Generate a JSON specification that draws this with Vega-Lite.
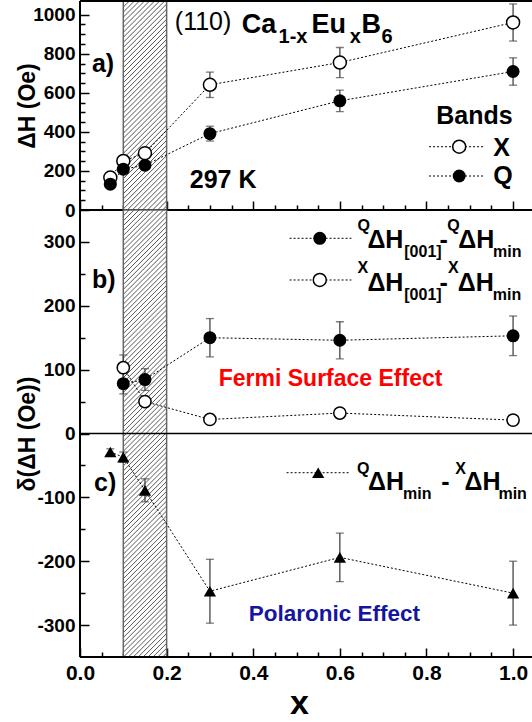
{
"$schema": "https://vega.github.io/schema/vega-lite/v6.json",
"autosize": {"type": "pad"},
"padding": {"left": 16, "top": 0, "right": 0, "bottom": 0},
"background": "white",
"bounds": "flush",
"spacing": 0,
"config": {
  "font": "Liberation Sans",
  "view": {"stroke": null},
  "concat": {"spacing": 0},
  "axis": {"domain": false, "offset": -9, "ticks": true, "tickSize": 9, "tickColor": "black", "tickWidth": 1.5, "labelColor": "black", "titleColor": "black", "labelFont": "Liberation Sans", "labelFontWeight": "bold", "titleFont": "Liberation Sans", "titleFontWeight": "bold", "grid": false, "labelFlush": false, "labelOverlap": false, "labelPadding": 5, "zindex": 1}
},
"datasets": {
  "top": [
    {"x": 0.07, "y": 166, "e": 15, "s": "X"},
    {"x": 0.1, "y": 251, "e": 15, "s": "X"},
    {"x": 0.15, "y": 291, "e": 15, "s": "X"},
    {"x": 0.3, "y": 641, "e": 65, "s": "X"},
    {"x": 0.6, "y": 755, "e": 77, "s": "X"},
    {"x": 1.0, "y": 960, "e": 95, "s": "X"},
    {"x": 0.07, "y": 132, "e": 15, "s": "Q"},
    {"x": 0.1, "y": 209, "e": 15, "s": "Q"},
    {"x": 0.15, "y": 229, "e": 15, "s": "Q"},
    {"x": 0.3, "y": 391, "e": 38, "s": "Q"},
    {"x": 0.6, "y": 559, "e": 55, "s": "Q"},
    {"x": 1.0, "y": 709, "e": 70, "s": "Q"}
  ],
  "bot": [
    {"x": 0.1, "y": 78, "e": 16, "s": "Q"},
    {"x": 0.15, "y": 84.5, "e": 17, "s": "Q"},
    {"x": 0.3, "y": 150, "e": 30, "s": "Q"},
    {"x": 0.6, "y": 146, "e": 29, "s": "Q"},
    {"x": 1.0, "y": 153, "e": 31, "s": "Q"},
    {"x": 0.1, "y": 103, "e": 20, "s": "X"},
    {"x": 0.15, "y": 50, "e": 8, "s": "X"},
    {"x": 0.3, "y": 22, "e": 5, "s": "X"},
    {"x": 0.6, "y": 32, "e": 5, "s": "X"},
    {"x": 1.0, "y": 21, "e": 5, "s": "X"},
    {"x": 0.07, "y": -29, "e": 5, "s": "T"},
    {"x": 0.1, "y": -37, "e": 8, "s": "T"},
    {"x": 0.15, "y": -89, "e": 18, "s": "T"},
    {"x": 0.3, "y": -247, "e": 50, "s": "T"},
    {"x": 0.6, "y": -194, "e": 38, "s": "T"},
    {"x": 1.0, "y": -250, "e": 50, "s": "T"}
  ],
  "bandTop": [{"x": 0.1, "x2": 0.2, "y": 0, "y2": 1070}],
  "bandBot": [{"x": 0.1, "x2": 0.2, "y": -350, "y2": 350}],
  "tEdgeH": [{"x": 0, "x2": 1.046, "y": 1070}, {"x": 0, "x2": 1.046, "y": 0}],
  "tEdgeV": [{"x": 0, "y": 0, "y2": 1070}],
  "bEdgeH": [{"x": 0, "x2": 1.046, "y": -350}],
  "bEdgeV": [{"x": 0, "y": -350, "y2": 350}],
  "zeroLine": [{"x": 0, "x2": 1.046, "y": 0}],
  "tLegRule": [{"x": 0.806, "x2": 0.932, "y": 324}, {"x": 0.806, "x2": 0.932, "y": 174}],
  "tLegOpen": [{"x": 0.8756, "y": 324}],
  "tLegFill": [{"x": 0.8756, "y": 174}],
  "tReg": [{"x": 0.2189, "y": 922, "t": "(110)"}],
  "tBig": [{"x": 0.3733, "y": 906, "t": "Ca"}, {"x": 0.5346, "y": 906, "t": "Eu"}, {"x": 0.6498, "y": 906, "t": "B"}],
  "tSub": [{"x": 0.4585, "y": 855, "t": "1-x"}, {"x": 0.6229, "y": 855, "t": "x"}, {"x": 0.6959, "y": 855, "t": "6"}],
  "tLbl": [{"x": 0.0276, "y": 707, "t": "a)"}, {"x": 0.8226, "y": 440, "t": "Bands"}, {"x": 0.954, "y": 277, "t": "X"}, {"x": 0.954, "y": 135, "t": "Q"}, {"x": 0.2535, "y": 113, "t": "297 K"}],
  "bLbl": [{"x": 0.0276, "y": 228, "t": "b)"}, {"x": 0.0323, "y": -90, "t": "c)"}],
  "bFermi": [{"x": 0.3203, "y": 74, "t": "Fermi Surface Effect"}],
  "bPolar": [{"x": 0.3894, "y": -293, "t": "Polaronic Effect"}],
  "bMain": [{"x": 0.6636, "y": 291, "t": "ΔH"}, {"x": 0.83, "y": 291, "t": "-"}, {"x": 0.8733, "y": 291, "t": "ΔH"}, {"x": 0.6636, "y": 223, "t": "ΔH"}, {"x": 0.83, "y": 223, "t": "-"}, {"x": 0.8725, "y": 223, "t": "ΔH"}, {"x": 0.6652, "y": -88.5, "t": "ΔH"}, {"x": 0.834, "y": -88.5, "t": "-"}, {"x": 0.8878, "y": -88.5, "t": "ΔH"}],
  "bSup": [{"x": 0.6405, "y": 317, "t": "Q"}, {"x": 0.848, "y": 317, "t": "Q"}, {"x": 0.6405, "y": 252, "t": "X"}, {"x": 0.8495, "y": 252, "t": "X"}, {"x": 0.6397, "y": -63, "t": "Q"}, {"x": 0.8663, "y": -63, "t": "X"}],
  "bSub": [{"x": 0.7488, "y": 276.5, "t": "[001]"}, {"x": 0.9539, "y": 276.5, "t": "min"}, {"x": 0.7488, "y": 208.6, "t": "[001]"}, {"x": 0.9532, "y": 208.6, "t": "min"}, {"x": 0.7459, "y": -103, "t": "min"}, {"x": 0.9662, "y": -103, "t": "min"}],
  "bLegRule": [{"x": 0.4839, "x2": 0.6267, "y": 305.7}, {"x": 0.4839, "x2": 0.6267, "y": 240.4}, {"x": 0.477, "x2": 0.6221, "y": -61.4}],
  "bLegFill": [{"x": 0.5537, "y": 305.7}],
  "bLegOpen": [{"x": 0.5537, "y": 240.4}],
  "bLegTri": [{"x": 0.55, "y": -61.4}]
},
"vconcat": [
{
  "width": 453, "height": 209,
  "encoding": {
    "x": {"field": "x", "type": "quantitative", "scale": {"domain": [0, 1.046], "nice": false, "zero": false},
      "axis": {"orient": "bottom", "values": [0,0.05,0.1,0.15,0.2,0.25,0.3,0.35,0.4,0.45,0.5,0.55,0.6,0.65,0.7,0.75,0.8,0.85,0.9,0.95,1], "labels": false, "title": null,
        "tickDash": {"condition": {"test": "abs(datum.value*5-round(datum.value*5))>0.001", "value": [0, 4, 5, 100]}, "value": [100, 1]}}},
    "y": {"field": "y", "type": "quantitative", "scale": {"domain": [0, 1070], "nice": false, "zero": false},
      "axis": {"values": [0,50,100,150,200,250,300,350,400,450,500,550,600,650,700,750,800,850,900,950,1000], "format": "d", "labelExpr": "datum.value % 200 === 0 ? datum.label : ''", "labelFontSize": 19,
        "title": "ΔH (Oe)", "titleFontSize": 23, "titleX": -55, "titleY": 104.5, "titleBaseline": "alphabetic",
        "tickDash": {"condition": {"test": "datum.value % 200 !== 0", "value": [0, 4, 5, 100]}, "value": [100, 1]}}}
  },
  "layer": [
    {"data": {"name": "bandTop"},
     "mark": {"type": "rect", "stroke": "#666", "strokeWidth": 1.5,
       "fill": {"gradient": "linear", "x1": 0, "y1": 0, "x2": 0.23987, "y2": 1.15751, "stops": [
{"offset":0,"color":"#fff"},{"offset":0.004,"color":"#555"},{"offset":0.008,"color":"#fff"},
{"offset":0.02,"color":"#fff"},{"offset":0.024,"color":"#555"},{"offset":0.028,"color":"#fff"},
{"offset":0.04,"color":"#fff"},{"offset":0.044,"color":"#555"},{"offset":0.048,"color":"#fff"},
{"offset":0.06,"color":"#fff"},{"offset":0.064,"color":"#555"},{"offset":0.068,"color":"#fff"},
{"offset":0.08,"color":"#fff"},{"offset":0.084,"color":"#555"},{"offset":0.088,"color":"#fff"},
{"offset":0.1,"color":"#fff"},{"offset":0.104,"color":"#555"},{"offset":0.108,"color":"#fff"},
{"offset":0.12,"color":"#fff"},{"offset":0.124,"color":"#555"},{"offset":0.128,"color":"#fff"},
{"offset":0.14,"color":"#fff"},{"offset":0.144,"color":"#555"},{"offset":0.148,"color":"#fff"},
{"offset":0.16,"color":"#fff"},{"offset":0.164,"color":"#555"},{"offset":0.168,"color":"#fff"},
{"offset":0.18,"color":"#fff"},{"offset":0.184,"color":"#555"},{"offset":0.188,"color":"#fff"},
{"offset":0.2,"color":"#fff"},{"offset":0.204,"color":"#555"},{"offset":0.208,"color":"#fff"},
{"offset":0.22,"color":"#fff"},{"offset":0.224,"color":"#555"},{"offset":0.228,"color":"#fff"},
{"offset":0.24,"color":"#fff"},{"offset":0.244,"color":"#555"},{"offset":0.248,"color":"#fff"},
{"offset":0.26,"color":"#fff"},{"offset":0.264,"color":"#555"},{"offset":0.268,"color":"#fff"},
{"offset":0.28,"color":"#fff"},{"offset":0.284,"color":"#555"},{"offset":0.288,"color":"#fff"},
{"offset":0.3,"color":"#fff"},{"offset":0.304,"color":"#555"},{"offset":0.308,"color":"#fff"},
{"offset":0.32,"color":"#fff"},{"offset":0.324,"color":"#555"},{"offset":0.328,"color":"#fff"},
{"offset":0.34,"color":"#fff"},{"offset":0.344,"color":"#555"},{"offset":0.348,"color":"#fff"},
{"offset":0.36,"color":"#fff"},{"offset":0.364,"color":"#555"},{"offset":0.368,"color":"#fff"},
{"offset":0.38,"color":"#fff"},{"offset":0.384,"color":"#555"},{"offset":0.388,"color":"#fff"},
{"offset":0.4,"color":"#fff"},{"offset":0.404,"color":"#555"},{"offset":0.408,"color":"#fff"},
{"offset":0.42,"color":"#fff"},{"offset":0.424,"color":"#555"},{"offset":0.428,"color":"#fff"},
{"offset":0.44,"color":"#fff"},{"offset":0.444,"color":"#555"},{"offset":0.448,"color":"#fff"},
{"offset":0.46,"color":"#fff"},{"offset":0.464,"color":"#555"},{"offset":0.468,"color":"#fff"},
{"offset":0.48,"color":"#fff"},{"offset":0.484,"color":"#555"},{"offset":0.488,"color":"#fff"},
{"offset":0.5,"color":"#fff"},{"offset":0.504,"color":"#555"},{"offset":0.508,"color":"#fff"},
{"offset":0.52,"color":"#fff"},{"offset":0.524,"color":"#555"},{"offset":0.528,"color":"#fff"},
{"offset":0.54,"color":"#fff"},{"offset":0.544,"color":"#555"},{"offset":0.548,"color":"#fff"},
{"offset":0.56,"color":"#fff"},{"offset":0.564,"color":"#555"},{"offset":0.568,"color":"#fff"},
{"offset":0.58,"color":"#fff"},{"offset":0.584,"color":"#555"},{"offset":0.588,"color":"#fff"},
{"offset":0.6,"color":"#fff"},{"offset":0.604,"color":"#555"},{"offset":0.608,"color":"#fff"},
{"offset":0.62,"color":"#fff"},{"offset":0.624,"color":"#555"},{"offset":0.628,"color":"#fff"},
{"offset":0.64,"color":"#fff"},{"offset":0.644,"color":"#555"},{"offset":0.648,"color":"#fff"},
{"offset":0.66,"color":"#fff"},{"offset":0.664,"color":"#555"},{"offset":0.668,"color":"#fff"},
{"offset":0.68,"color":"#fff"},{"offset":0.684,"color":"#555"},{"offset":0.688,"color":"#fff"},
{"offset":0.7,"color":"#fff"},{"offset":0.704,"color":"#555"},{"offset":0.708,"color":"#fff"},
{"offset":0.72,"color":"#fff"},{"offset":0.724,"color":"#555"},{"offset":0.728,"color":"#fff"},
{"offset":0.74,"color":"#fff"},{"offset":0.744,"color":"#555"},{"offset":0.748,"color":"#fff"},
{"offset":0.76,"color":"#fff"},{"offset":0.764,"color":"#555"},{"offset":0.768,"color":"#fff"},
{"offset":0.78,"color":"#fff"},{"offset":0.784,"color":"#555"},{"offset":0.788,"color":"#fff"},
{"offset":0.8,"color":"#fff"},{"offset":0.804,"color":"#555"},{"offset":0.808,"color":"#fff"},
{"offset":0.82,"color":"#fff"},{"offset":0.824,"color":"#555"},{"offset":0.828,"color":"#fff"},
{"offset":0.84,"color":"#fff"},{"offset":0.844,"color":"#555"},{"offset":0.848,"color":"#fff"},
{"offset":0.86,"color":"#fff"},{"offset":0.864,"color":"#555"},{"offset":0.868,"color":"#fff"},
{"offset":0.88,"color":"#fff"},{"offset":0.884,"color":"#555"},{"offset":0.888,"color":"#fff"},
{"offset":0.9,"color":"#fff"},{"offset":0.904,"color":"#555"},{"offset":0.908,"color":"#fff"},
{"offset":0.92,"color":"#fff"},{"offset":0.924,"color":"#555"},{"offset":0.928,"color":"#fff"},
{"offset":0.94,"color":"#fff"},{"offset":0.944,"color":"#555"},{"offset":0.948,"color":"#fff"},
{"offset":0.96,"color":"#fff"},{"offset":0.964,"color":"#555"},{"offset":0.968,"color":"#fff"},
{"offset":0.98,"color":"#fff"},{"offset":0.984,"color":"#555"},{"offset":0.988,"color":"#fff"},
{"offset":1,"color":"#fff"}
       ]}},
     "encoding": {"x2": {"field": "x2"}, "y2": {"field": "y2"}}},
    {"data": {"name": "tEdgeH"}, "mark": {"type": "rule", "color": "black", "strokeWidth": 2},
     "encoding": {"x2": {"field": "x2"}}},
    {"data": {"name": "tEdgeV"}, "mark": {"type": "rule", "color": "black", "strokeWidth": 2},
     "encoding": {"y2": {"field": "y2"}}},
    {"data": {"name": "top"}, "mark": {"type": "line", "color": "black", "strokeWidth": 1, "strokeDash": [2, 2]},
     "encoding": {"detail": {"field": "s"}}},
    {"data": {"name": "top"}, "mark": {"type": "errorbar", "color": "#444", "thickness": 1.3, "ticks": {"size": 8}},
     "encoding": {"yError": {"field": "e"}}},
    {"data": {"name": "top"}, "transform": [{"filter": "datum.s === 'X'"}],
     "mark": {"type": "point", "shape": "circle", "filled": true, "fill": "white", "stroke": "black", "strokeWidth": 1.5, "size": 169, "opacity": 1}},
    {"data": {"name": "top"}, "transform": [{"filter": "datum.s === 'Q'"}],
     "mark": {"type": "point", "shape": "circle", "filled": true, "color": "black", "size": 169, "opacity": 1}},
    {"data": {"name": "tLegRule"}, "mark": {"type": "rule", "color": "black", "strokeWidth": 1, "strokeDash": [2, 2]},
     "encoding": {"x2": {"field": "x2"}}},
    {"data": {"name": "tLegOpen"},
     "mark": {"type": "point", "shape": "circle", "filled": true, "fill": "white", "stroke": "black", "strokeWidth": 1.5, "size": 169, "opacity": 1}},
    {"data": {"name": "tLegFill"},
     "mark": {"type": "point", "shape": "circle", "filled": true, "color": "black", "size": 169, "opacity": 1}},
    {"data": {"name": "tReg"}, "mark": {"type": "text", "align": "left", "baseline": "alphabetic", "font": "Liberation Sans", "fontSize": 25, "color": "black"},
     "encoding": {"text": {"field": "t"}}},
    {"data": {"name": "tBig"}, "mark": {"type": "text", "align": "left", "baseline": "alphabetic", "font": "Liberation Sans", "fontWeight": "bold", "fontSize": 27, "color": "black"},
     "encoding": {"text": {"field": "t"}}},
    {"data": {"name": "tSub"}, "mark": {"type": "text", "align": "left", "baseline": "alphabetic", "font": "Liberation Sans", "fontWeight": "bold", "fontSize": 20, "color": "black"},
     "encoding": {"text": {"field": "t"}}},
    {"data": {"name": "tLbl"}, "mark": {"type": "text", "align": "left", "baseline": "alphabetic", "font": "Liberation Sans", "fontWeight": "bold", "fontSize": 25, "color": "black"},
     "encoding": {"text": {"field": "t"}}}
  ]
},
{
  "width": 453, "height": 447,
  "encoding": {
    "x": {"field": "x", "type": "quantitative", "scale": {"domain": [0, 1.046], "nice": false, "zero": false},
      "axis": {"orient": "bottom", "values": [0,0.05,0.1,0.15,0.2,0.25,0.3,0.35,0.4,0.45,0.5,0.55,0.6,0.65,0.7,0.75,0.8,0.85,0.9,0.95,1],
        "labelExpr": "abs(datum.value*5-round(datum.value*5))<0.001 ? format(datum.value, '.1f') : ''", "labelFontSize": 21,
        "title": "x", "titleFontSize": 34, "titleX": 219, "titleY": 65, "titleBaseline": "alphabetic",
        "tickDash": {"condition": {"test": "abs(datum.value*5-round(datum.value*5))>0.001", "value": [0, 4, 5, 100]}, "value": [100, 1]}}},
    "y": {"field": "y", "type": "quantitative", "scale": {"domain": [-350, 350], "nice": false, "zero": false},
      "axis": {"values": [-300,-250,-200,-150,-100,-50,0,50,100,150,200,250,300], "labelExpr": "datum.value % 100 === 0 ? '' + datum.value : ''", "labelFontSize": 19,
        "title": "δ(ΔH (Oe))", "titleFontSize": 23, "titleX": -55, "titleY": 223.5, "titleBaseline": "alphabetic",
        "tickDash": {"condition": {"test": "datum.value % 100 !== 0", "value": [0, 4, 5, 100]}, "value": [100, 1]}}}
  },
  "layer": [
    {"data": {"name": "bandBot"},
     "mark": {"type": "rect", "stroke": "#666", "strokeWidth": 1.5,
       "fill": {"gradient": "linear", "x1": 0, "y1": 0, "x2": 0.10529, "y2": 1.0867, "stops": [
{"offset":0,"color":"#fff"},{"offset":0.002,"color":"#555"},{"offset":0.004,"color":"#fff"},
{"offset":0.01,"color":"#fff"},{"offset":0.012,"color":"#555"},{"offset":0.014,"color":"#fff"},
{"offset":0.02,"color":"#fff"},{"offset":0.022,"color":"#555"},{"offset":0.024,"color":"#fff"},
{"offset":0.03,"color":"#fff"},{"offset":0.032,"color":"#555"},{"offset":0.034,"color":"#fff"},
{"offset":0.04,"color":"#fff"},{"offset":0.042,"color":"#555"},{"offset":0.044,"color":"#fff"},
{"offset":0.05,"color":"#fff"},{"offset":0.052,"color":"#555"},{"offset":0.054,"color":"#fff"},
{"offset":0.06,"color":"#fff"},{"offset":0.062,"color":"#555"},{"offset":0.064,"color":"#fff"},
{"offset":0.07,"color":"#fff"},{"offset":0.072,"color":"#555"},{"offset":0.074,"color":"#fff"},
{"offset":0.08,"color":"#fff"},{"offset":0.082,"color":"#555"},{"offset":0.084,"color":"#fff"},
{"offset":0.09,"color":"#fff"},{"offset":0.092,"color":"#555"},{"offset":0.094,"color":"#fff"},
{"offset":0.1,"color":"#fff"},{"offset":0.102,"color":"#555"},{"offset":0.104,"color":"#fff"},
{"offset":0.11,"color":"#fff"},{"offset":0.112,"color":"#555"},{"offset":0.114,"color":"#fff"},
{"offset":0.12,"color":"#fff"},{"offset":0.122,"color":"#555"},{"offset":0.124,"color":"#fff"},
{"offset":0.13,"color":"#fff"},{"offset":0.132,"color":"#555"},{"offset":0.134,"color":"#fff"},
{"offset":0.14,"color":"#fff"},{"offset":0.142,"color":"#555"},{"offset":0.144,"color":"#fff"},
{"offset":0.15,"color":"#fff"},{"offset":0.152,"color":"#555"},{"offset":0.154,"color":"#fff"},
{"offset":0.16,"color":"#fff"},{"offset":0.162,"color":"#555"},{"offset":0.164,"color":"#fff"},
{"offset":0.17,"color":"#fff"},{"offset":0.172,"color":"#555"},{"offset":0.174,"color":"#fff"},
{"offset":0.18,"color":"#fff"},{"offset":0.182,"color":"#555"},{"offset":0.184,"color":"#fff"},
{"offset":0.19,"color":"#fff"},{"offset":0.192,"color":"#555"},{"offset":0.194,"color":"#fff"},
{"offset":0.2,"color":"#fff"},{"offset":0.202,"color":"#555"},{"offset":0.204,"color":"#fff"},
{"offset":0.21,"color":"#fff"},{"offset":0.212,"color":"#555"},{"offset":0.214,"color":"#fff"},
{"offset":0.22,"color":"#fff"},{"offset":0.222,"color":"#555"},{"offset":0.224,"color":"#fff"},
{"offset":0.23,"color":"#fff"},{"offset":0.232,"color":"#555"},{"offset":0.234,"color":"#fff"},
{"offset":0.24,"color":"#fff"},{"offset":0.242,"color":"#555"},{"offset":0.244,"color":"#fff"},
{"offset":0.25,"color":"#fff"},{"offset":0.252,"color":"#555"},{"offset":0.254,"color":"#fff"},
{"offset":0.26,"color":"#fff"},{"offset":0.262,"color":"#555"},{"offset":0.264,"color":"#fff"},
{"offset":0.27,"color":"#fff"},{"offset":0.272,"color":"#555"},{"offset":0.274,"color":"#fff"},
{"offset":0.28,"color":"#fff"},{"offset":0.282,"color":"#555"},{"offset":0.284,"color":"#fff"},
{"offset":0.29,"color":"#fff"},{"offset":0.292,"color":"#555"},{"offset":0.294,"color":"#fff"},
{"offset":0.3,"color":"#fff"},{"offset":0.302,"color":"#555"},{"offset":0.304,"color":"#fff"},
{"offset":0.31,"color":"#fff"},{"offset":0.312,"color":"#555"},{"offset":0.314,"color":"#fff"},
{"offset":0.32,"color":"#fff"},{"offset":0.322,"color":"#555"},{"offset":0.324,"color":"#fff"},
{"offset":0.33,"color":"#fff"},{"offset":0.332,"color":"#555"},{"offset":0.334,"color":"#fff"},
{"offset":0.34,"color":"#fff"},{"offset":0.342,"color":"#555"},{"offset":0.344,"color":"#fff"},
{"offset":0.35,"color":"#fff"},{"offset":0.352,"color":"#555"},{"offset":0.354,"color":"#fff"},
{"offset":0.36,"color":"#fff"},{"offset":0.362,"color":"#555"},{"offset":0.364,"color":"#fff"},
{"offset":0.37,"color":"#fff"},{"offset":0.372,"color":"#555"},{"offset":0.374,"color":"#fff"},
{"offset":0.38,"color":"#fff"},{"offset":0.382,"color":"#555"},{"offset":0.384,"color":"#fff"},
{"offset":0.39,"color":"#fff"},{"offset":0.392,"color":"#555"},{"offset":0.394,"color":"#fff"},
{"offset":0.4,"color":"#fff"},{"offset":0.402,"color":"#555"},{"offset":0.404,"color":"#fff"},
{"offset":0.41,"color":"#fff"},{"offset":0.412,"color":"#555"},{"offset":0.414,"color":"#fff"},
{"offset":0.42,"color":"#fff"},{"offset":0.422,"color":"#555"},{"offset":0.424,"color":"#fff"},
{"offset":0.43,"color":"#fff"},{"offset":0.432,"color":"#555"},{"offset":0.434,"color":"#fff"},
{"offset":0.44,"color":"#fff"},{"offset":0.442,"color":"#555"},{"offset":0.444,"color":"#fff"},
{"offset":0.45,"color":"#fff"},{"offset":0.452,"color":"#555"},{"offset":0.454,"color":"#fff"},
{"offset":0.46,"color":"#fff"},{"offset":0.462,"color":"#555"},{"offset":0.464,"color":"#fff"},
{"offset":0.47,"color":"#fff"},{"offset":0.472,"color":"#555"},{"offset":0.474,"color":"#fff"},
{"offset":0.48,"color":"#fff"},{"offset":0.482,"color":"#555"},{"offset":0.484,"color":"#fff"},
{"offset":0.49,"color":"#fff"},{"offset":0.492,"color":"#555"},{"offset":0.494,"color":"#fff"},
{"offset":0.5,"color":"#fff"},{"offset":0.502,"color":"#555"},{"offset":0.504,"color":"#fff"},
{"offset":0.51,"color":"#fff"},{"offset":0.512,"color":"#555"},{"offset":0.514,"color":"#fff"},
{"offset":0.52,"color":"#fff"},{"offset":0.522,"color":"#555"},{"offset":0.524,"color":"#fff"},
{"offset":0.53,"color":"#fff"},{"offset":0.532,"color":"#555"},{"offset":0.534,"color":"#fff"},
{"offset":0.54,"color":"#fff"},{"offset":0.542,"color":"#555"},{"offset":0.544,"color":"#fff"},
{"offset":0.55,"color":"#fff"},{"offset":0.552,"color":"#555"},{"offset":0.554,"color":"#fff"},
{"offset":0.56,"color":"#fff"},{"offset":0.562,"color":"#555"},{"offset":0.564,"color":"#fff"},
{"offset":0.57,"color":"#fff"},{"offset":0.572,"color":"#555"},{"offset":0.574,"color":"#fff"},
{"offset":0.58,"color":"#fff"},{"offset":0.582,"color":"#555"},{"offset":0.584,"color":"#fff"},
{"offset":0.59,"color":"#fff"},{"offset":0.592,"color":"#555"},{"offset":0.594,"color":"#fff"},
{"offset":0.6,"color":"#fff"},{"offset":0.602,"color":"#555"},{"offset":0.604,"color":"#fff"},
{"offset":0.61,"color":"#fff"},{"offset":0.612,"color":"#555"},{"offset":0.614,"color":"#fff"},
{"offset":0.62,"color":"#fff"},{"offset":0.622,"color":"#555"},{"offset":0.624,"color":"#fff"},
{"offset":0.63,"color":"#fff"},{"offset":0.632,"color":"#555"},{"offset":0.634,"color":"#fff"},
{"offset":0.64,"color":"#fff"},{"offset":0.642,"color":"#555"},{"offset":0.644,"color":"#fff"},
{"offset":0.65,"color":"#fff"},{"offset":0.652,"color":"#555"},{"offset":0.654,"color":"#fff"},
{"offset":0.66,"color":"#fff"},{"offset":0.662,"color":"#555"},{"offset":0.664,"color":"#fff"},
{"offset":0.67,"color":"#fff"},{"offset":0.672,"color":"#555"},{"offset":0.674,"color":"#fff"},
{"offset":0.68,"color":"#fff"},{"offset":0.682,"color":"#555"},{"offset":0.684,"color":"#fff"},
{"offset":0.69,"color":"#fff"},{"offset":0.692,"color":"#555"},{"offset":0.694,"color":"#fff"},
{"offset":0.7,"color":"#fff"},{"offset":0.702,"color":"#555"},{"offset":0.704,"color":"#fff"},
{"offset":0.71,"color":"#fff"},{"offset":0.712,"color":"#555"},{"offset":0.714,"color":"#fff"},
{"offset":0.72,"color":"#fff"},{"offset":0.722,"color":"#555"},{"offset":0.724,"color":"#fff"},
{"offset":0.73,"color":"#fff"},{"offset":0.732,"color":"#555"},{"offset":0.734,"color":"#fff"},
{"offset":0.74,"color":"#fff"},{"offset":0.742,"color":"#555"},{"offset":0.744,"color":"#fff"},
{"offset":0.75,"color":"#fff"},{"offset":0.752,"color":"#555"},{"offset":0.754,"color":"#fff"},
{"offset":0.76,"color":"#fff"},{"offset":0.762,"color":"#555"},{"offset":0.764,"color":"#fff"},
{"offset":0.77,"color":"#fff"},{"offset":0.772,"color":"#555"},{"offset":0.774,"color":"#fff"},
{"offset":0.78,"color":"#fff"},{"offset":0.782,"color":"#555"},{"offset":0.784,"color":"#fff"},
{"offset":0.79,"color":"#fff"},{"offset":0.792,"color":"#555"},{"offset":0.794,"color":"#fff"},
{"offset":0.8,"color":"#fff"},{"offset":0.802,"color":"#555"},{"offset":0.804,"color":"#fff"},
{"offset":0.81,"color":"#fff"},{"offset":0.812,"color":"#555"},{"offset":0.814,"color":"#fff"},
{"offset":0.82,"color":"#fff"},{"offset":0.822,"color":"#555"},{"offset":0.824,"color":"#fff"},
{"offset":0.83,"color":"#fff"},{"offset":0.832,"color":"#555"},{"offset":0.834,"color":"#fff"},
{"offset":0.84,"color":"#fff"},{"offset":0.842,"color":"#555"},{"offset":0.844,"color":"#fff"},
{"offset":0.85,"color":"#fff"},{"offset":0.852,"color":"#555"},{"offset":0.854,"color":"#fff"},
{"offset":0.86,"color":"#fff"},{"offset":0.862,"color":"#555"},{"offset":0.864,"color":"#fff"},
{"offset":0.87,"color":"#fff"},{"offset":0.872,"color":"#555"},{"offset":0.874,"color":"#fff"},
{"offset":0.88,"color":"#fff"},{"offset":0.882,"color":"#555"},{"offset":0.884,"color":"#fff"},
{"offset":0.89,"color":"#fff"},{"offset":0.892,"color":"#555"},{"offset":0.894,"color":"#fff"},
{"offset":0.9,"color":"#fff"},{"offset":0.902,"color":"#555"},{"offset":0.904,"color":"#fff"},
{"offset":0.91,"color":"#fff"},{"offset":0.912,"color":"#555"},{"offset":0.914,"color":"#fff"},
{"offset":0.92,"color":"#fff"},{"offset":0.922,"color":"#555"},{"offset":0.924,"color":"#fff"},
{"offset":0.93,"color":"#fff"},{"offset":0.932,"color":"#555"},{"offset":0.934,"color":"#fff"},
{"offset":0.94,"color":"#fff"},{"offset":0.942,"color":"#555"},{"offset":0.944,"color":"#fff"},
{"offset":0.95,"color":"#fff"},{"offset":0.952,"color":"#555"},{"offset":0.954,"color":"#fff"},
{"offset":0.96,"color":"#fff"},{"offset":0.962,"color":"#555"},{"offset":0.964,"color":"#fff"},
{"offset":0.97,"color":"#fff"},{"offset":0.972,"color":"#555"},{"offset":0.974,"color":"#fff"},
{"offset":0.98,"color":"#fff"},{"offset":0.982,"color":"#555"},{"offset":0.984,"color":"#fff"},
{"offset":0.99,"color":"#fff"},{"offset":0.992,"color":"#555"},{"offset":0.994,"color":"#fff"},
{"offset":1,"color":"#fff"}
       ]}},
     "encoding": {"x2": {"field": "x2"}, "y2": {"field": "y2"}}},
    {"data": {"name": "bEdgeH"}, "mark": {"type": "rule", "color": "black", "strokeWidth": 2},
     "encoding": {"x2": {"field": "x2"}}},
    {"data": {"name": "bEdgeV"}, "mark": {"type": "rule", "color": "black", "strokeWidth": 2},
     "encoding": {"y2": {"field": "y2"}}},
    {"data": {"name": "zeroLine"}, "mark": {"type": "rule", "color": "black", "strokeWidth": 1.5},
     "encoding": {"x2": {"field": "x2"}}},
    {"data": {"name": "bot"}, "mark": {"type": "line", "color": "black", "strokeWidth": 1, "strokeDash": [2, 2]},
     "encoding": {"detail": {"field": "s"}}},
    {"data": {"name": "bot"}, "mark": {"type": "errorbar", "color": "#444", "thickness": 1.3, "ticks": {"size": 8}},
     "encoding": {"yError": {"field": "e"}}},
    {"data": {"name": "bot"}, "transform": [{"filter": "datum.s === 'X'"}],
     "mark": {"type": "point", "shape": "circle", "filled": true, "fill": "white", "stroke": "black", "strokeWidth": 1.5, "size": 150, "opacity": 1}},
    {"data": {"name": "bot"}, "transform": [{"filter": "datum.s === 'Q'"}],
     "mark": {"type": "point", "shape": "circle", "filled": true, "color": "black", "size": 169, "opacity": 1}},
    {"data": {"name": "bot"}, "transform": [{"filter": "datum.s === 'T'"}],
     "mark": {"type": "point", "shape": "triangle-up", "filled": true, "color": "black", "size": 150, "opacity": 1}},
    {"data": {"name": "bLegRule"}, "mark": {"type": "rule", "color": "black", "strokeWidth": 1, "strokeDash": [2, 2]},
     "encoding": {"x2": {"field": "x2"}}},
    {"data": {"name": "bLegFill"},
     "mark": {"type": "point", "shape": "circle", "filled": true, "color": "black", "size": 169, "opacity": 1}},
    {"data": {"name": "bLegOpen"},
     "mark": {"type": "point", "shape": "circle", "filled": true, "fill": "white", "stroke": "black", "strokeWidth": 1.5, "size": 169, "opacity": 1}},
    {"data": {"name": "bLegTri"},
     "mark": {"type": "point", "shape": "triangle-up", "filled": true, "color": "black", "size": 150, "opacity": 1}},
    {"data": {"name": "bLbl"}, "mark": {"type": "text", "align": "left", "baseline": "alphabetic", "font": "Liberation Sans", "fontWeight": "bold", "fontSize": 25, "color": "black"},
     "encoding": {"text": {"field": "t"}}},
    {"data": {"name": "bFermi"}, "mark": {"type": "text", "align": "left", "baseline": "alphabetic", "font": "Liberation Sans", "fontWeight": "bold", "fontSize": 23, "color": "#ff0000"},
     "encoding": {"text": {"field": "t"}}},
    {"data": {"name": "bPolar"}, "mark": {"type": "text", "align": "left", "baseline": "alphabetic", "font": "Liberation Sans", "fontWeight": "bold", "fontSize": 22.5, "color": "#1515a0"},
     "encoding": {"text": {"field": "t"}}},
    {"data": {"name": "bMain"}, "mark": {"type": "text", "align": "left", "baseline": "alphabetic", "font": "Liberation Sans", "fontWeight": "bold", "fontSize": 25, "color": "black"},
     "encoding": {"text": {"field": "t"}}},
    {"data": {"name": "bSup"}, "mark": {"type": "text", "align": "left", "baseline": "alphabetic", "font": "Liberation Sans", "fontWeight": "bold", "fontSize": 16, "color": "black"},
     "encoding": {"text": {"field": "t"}}},
    {"data": {"name": "bSub"}, "mark": {"type": "text", "align": "left", "baseline": "alphabetic", "font": "Liberation Sans", "fontWeight": "bold", "fontSize": 16, "color": "black"},
     "encoding": {"text": {"field": "t"}}}
  ]
}
]
}
